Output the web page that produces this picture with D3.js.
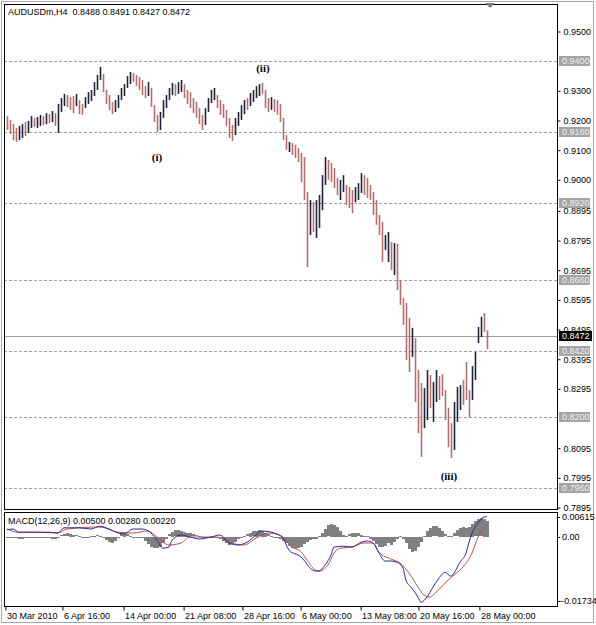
<!DOCTYPE html>
<html>
<head>
<meta charset="utf-8">
<script src="https://cdn.jsdelivr.net/npm/d3@7"></script>
<style>
  body { margin: 0; background: #fff; }
  svg { display: block; font-family: "Liberation Sans", Arial, sans-serif; }
</style>
</head>
<body>
<div id="chart"></div>
<script>
// AUDUSDm H4 bars (one entry per visible bar)
const highs = [
  0.9213,0.9200,0.9186,0.9173,0.9180,0.9186,0.9193,0.9197,0.9213,0.9207,
  0.9210,0.9217,0.9213,0.9223,0.9220,0.9230,0.9223,0.9254,0.9274,0.9288,
  0.9284,0.9277,0.9281,0.9288,0.9267,0.9254,0.9277,0.9294,0.9301,0.9328,
  0.9352,0.9379,0.9355,0.9301,0.9284,0.9261,0.9267,0.9284,0.9308,0.9321,
  0.9348,0.9362,0.9358,0.9352,0.9345,0.9335,0.9314,0.9328,0.9308,0.9250,
  0.9217,0.9227,0.9267,0.9284,0.9308,0.9325,0.9321,0.9328,0.9335,0.9321,
  0.9301,0.9294,0.9274,0.9261,0.9240,0.9217,0.9240,0.9274,0.9301,0.9308,
  0.9284,0.9267,0.9254,0.9234,0.9207,0.9183,0.9207,0.9227,0.9250,0.9267,
  0.9274,0.9291,0.9301,0.9314,0.9321,0.9325,0.9301,0.9274,0.9277,0.9271,
  0.9267,0.9254,0.9207,0.9149,0.9126,0.9122,0.9116,0.9105,0.9089,0.9075,
  0.8957,0.8930,0.8923,0.8930,0.8947,0.9014,0.9075,0.9065,0.9055,0.9038,
  0.9004,0.8998,0.9014,0.8981,0.8974,0.8964,0.8974,0.8987,0.9021,0.9014,
  0.9004,0.8981,0.8957,0.8930,0.8880,0.8856,0.8812,0.8822,0.8789,0.8785,
  0.8782,0.8660,0.8600,0.8583,0.8532,0.8499,0.8465,0.8357,0.8313,0.8296,
  0.8357,0.8340,0.8316,0.8357,0.8337,0.8343,0.8289,0.8229,0.8178,0.8249,
  0.8300,0.8306,0.8323,0.8384,0.8289,0.8370,0.8418,0.8502,0.8536,0.8549,
  0.8491
];
const lows = [
  0.9166,0.9153,0.9132,0.9126,0.9132,0.9139,0.9146,0.9156,0.9173,0.9176,
  0.9173,0.9180,0.9183,0.9186,0.9190,0.9193,0.9180,0.9156,0.9227,0.9247,
  0.9244,0.9234,0.9223,0.9247,0.9220,0.9217,0.9240,0.9254,0.9264,0.9281,
  0.9301,0.9335,0.9294,0.9254,0.9234,0.9220,0.9227,0.9240,0.9267,0.9281,
  0.9308,0.9321,0.9328,0.9314,0.9301,0.9284,0.9274,0.9281,0.9244,0.9193,
  0.9159,0.9166,0.9207,0.9240,0.9267,0.9284,0.9281,0.9288,0.9294,0.9274,
  0.9254,0.9240,0.9223,0.9207,0.9186,0.9166,0.9183,0.9227,0.9257,0.9267,
  0.9240,0.9217,0.9207,0.9180,0.9139,0.9129,0.9149,0.9180,0.9200,0.9220,
  0.9234,0.9247,0.9261,0.9274,0.9281,0.9288,0.9240,0.9227,0.9234,0.9227,
  0.9217,0.9193,0.9132,0.9099,0.9092,0.9082,0.9072,0.9058,0.8991,0.8930,
  0.8704,0.8812,0.8822,0.8802,0.8836,0.8896,0.8981,0.8998,0.8991,0.8971,
  0.8947,0.8930,0.8957,0.8913,0.8903,0.8886,0.8923,0.8930,0.8954,0.8947,
  0.8937,0.8930,0.8880,0.8846,0.8812,0.8721,0.8762,0.8721,0.8694,0.8677,
  0.8627,0.8576,0.8509,0.8391,0.8350,0.8401,0.8249,0.8144,0.8064,0.8161,
  0.8188,0.8229,0.8182,0.8249,0.8256,0.8269,0.8188,0.8097,0.8060,0.8087,
  0.8182,0.8222,0.8239,0.8256,0.8198,0.8256,0.8323,0.8448,0.8468,0.8485,
  0.8427
];
// u = up bar (dark), d = down bar (red) as seen on the picture
const barDirs = (
  "dddduuduud" + "uudududuuu" + "dddudduuuu" + "uudddduuuu" +
  "uudddddudd" + "duuuuuduud" + "dddddduuuu" + "dddddduuuu" +
  "duuuudddud" + "dddduddddd" + "duduuuuddd" + "duuddduuud" +
  "dddddduudu" + "dddddudddu" + "uduudddddu" + "uuddduuuud" + "d"
).split("");

const lastBar = { open: 0.8488, high: 0.8491, low: 0.8427, close: 0.8472 };
const symbolName = "AUDUSDm,H4";

const priceTicks = [0.95, 0.93, 0.92, 0.91, 0.90, 0.8895, 0.8795, 0.8695, 0.8595,
  0.8495, 0.8395, 0.8295, 0.8095, 0.7995, 0.7895];
const levelLines = [0.9400, 0.9160, 0.8920, 0.8660, 0.8420, 0.8200, 0.7960];

const dateTickIdx = [-0.7, 18.3, 38.7, 58.7, 78.3, 97.7, 117.7, 137, 157.3];
const dateLabels = ["30 Mar 2010", "6 Apr 16:00", "14 Apr 00:00", "21 Apr 08:00",
  "28 Apr 16:00", "6 May 00:00", "13 May 08:00", "20 May 16:00", "28 May 00:00"];

const waveLabels = ["(i)", "(ii)", "(iii)"];
const waveIdx = [50, 85.3, 147.3];
const wavePrice = [0.9076, 0.9375, 0.7999];

// MACD(12,26,9) window
const macdRange = [-0.01734, 0.00615];
const macdLegend = [0.00500, 0.00280, 0.00220];
const macdIdx = [0,2,4,9,14,17,19,24,28,31,34,37,39,42,45,48,50,52,54,55,58,61,64,68,71,74,77,80,
  83,85,89,92,94,98,99,101,103,104,106,108,109,112,115,118,120,122,124,126,128,130,132,133,135,
  137,138,140,142,144,146,148,149,151,153,154,155,157,159,160];
const macdMain = [0.0017,0.0019,0.0011,0.0011,0.0011,0.0009,0.0022,0.0022,0.0019,0.0026,0.0019,
  0.0009,0.0007,0.0019,0.0019,0.0009,-0.0009,-0.0029,-0.0026,-0.0009,0.0004,-0.0001,-0.0006,
  -0.0001,0.0004,-0.0016,-0.0021,-0.0014,0.0004,0.0014,0.0009,-0.0004,-0.0034,-0.0051,-0.0059,
  -0.0079,-0.0086,-0.0086,-0.0071,-0.0046,-0.0026,-0.0024,-0.0026,-0.0014,-0.0011,-0.0016,
  -0.0041,-0.0061,-0.0061,-0.0064,-0.0079,-0.0109,-0.0129,-0.0151,-0.0164,-0.0151,-0.0126,
  -0.0104,-0.0089,-0.0099,-0.0091,-0.0064,-0.0041,-0.0014,0.0009,0.0034,0.0049,0.0050];
const signalIdx = [0,4,9,17,20,31,37,42,47,50,54,58,61,65,70,74,79,83,87,91,95,98,100,102,104,
  107,109,111,115,119,122,124,128,131,134,137,139,141,143,147,149,152,155,157,160];
const macdSignal = [0.0019,0.0011,0.0011,0.0009,0.0019,0.0024,0.0011,0.0009,0.0014,-0.0001,
  -0.0021,-0.0016,-0.0001,-0.0001,-0.0001,-0.0014,-0.0021,-0.0004,0.0009,0.0004,-0.0026,
  -0.0038,-0.0059,-0.0079,-0.0086,-0.0071,-0.0041,-0.0029,-0.0026,-0.0016,-0.0016,-0.0039,
  -0.0056,-0.0066,-0.0091,-0.0126,-0.0146,-0.0151,-0.0139,-0.0109,-0.0096,-0.0076,-0.0041,
  -0.0001,0.0028];
const macdHist = [
  -0.0002,-0.0002,-0.0001,-0.0003,-0.0004,-0.0004,-0.0003,-0.0003,-0.0002,-0.0002,
  -0.0003,-0.0003,-0.0002,-0.0002,-0.0003,-0.0004,-0.0004,-0.0002,0.0003,0.0006,
  0.0008,0.0007,0.0005,0.0003,0.0001,-0.0001,-0.0002,-0.0001,0.0001,0.0002,
  0.0003,0.0002,-0.0003,-0.0008,-0.0012,-0.0015,-0.0010,-0.0002,0.0006,0.0009,
  0.0006,0.0002,-0.0001,-0.0002,-0.0001,-0.0003,-0.0010,-0.0018,-0.0024,-0.0028,
  -0.0027,-0.0024,-0.0015,-0.0004,0.0006,0.0012,0.0016,0.0017,0.0015,0.0012,
  0.0010,0.0008,0.0006,0.0003,0.0001,-0.0001,-0.0002,-0.0002,-0.0001,-0.0001,
  -0.0003,-0.0006,-0.0010,-0.0016,-0.0020,-0.0018,-0.0012,-0.0006,-0.0002,0.0002,
  0.0006,0.0010,0.0013,0.0015,0.0016,0.0014,0.0010,0.0006,0.0002,-0.0001,
  -0.0003,-0.0006,-0.0010,-0.0016,-0.0022,-0.0027,-0.0029,-0.0028,-0.0024,-0.0018,
  -0.0012,-0.0008,-0.0006,-0.0004,0.0001,0.0010,0.0020,0.0028,0.0032,0.0030,
  0.0024,0.0014,0.0004,0.0002,0.0006,0.0009,0.0010,0.0008,0.0004,0.0002,
  0.0001,-0.0004,-0.0010,-0.0018,-0.0024,-0.0026,-0.0022,-0.0016,-0.0020,-0.0012,
  -0.0004,0.0002,-0.0006,-0.0016,-0.0030,-0.0038,-0.0034,-0.0024,-0.0012,0.0002,
  0.0014,0.0022,0.0026,0.0026,0.0022,0.0014,0.0006,0.0001,0.0002,0.0008,
  0.0016,0.0022,0.0024,0.0022,0.0024,0.0032,0.0038,0.0043,0.0046,0.0044,
  0.0040
];

const width = 596, height = 625;
const frame = { left: 4, right: 557, top: 4, mainBottom: 509, subTop: 512, subBottom: 606 };

const svg = d3.select("#chart").append("svg")
  .attr("width", width)
  .attr("height", height);

const x = d3.scaleLinear().domain([0, highs.length - 1]).range([7, 487]);
const y = d3.scaleLinear().domain([0.7895, 0.95]).range([507, 31]);
const ym = d3.scaleLinear().domain(macdRange).range([frame.subBottom, frame.subTop]);

// outer window border
svg.append("rect")
  .attr("x", 1.5).attr("y", 1.5)
  .attr("width", 592).attr("height", 621)
  .attr("fill", "none").attr("stroke", "#a8a8a8");

// level lines
svg.append("g")
  .selectAll("line")
  .data(levelLines)
  .join("line")
  .attr("x1", frame.left).attr("x2", frame.right)
  .attr("y1", d => Math.round(y(d)) + 0.5)
  .attr("y2", d => Math.round(y(d)) + 0.5)
  .attr("stroke", "#a0a0a0")
  .attr("stroke-dasharray", "3,2");

// current price line
svg.append("line")
  .attr("x1", frame.left).attr("x2", frame.right)
  .attr("y1", Math.round(y(lastBar.close)) + 0.5)
  .attr("y2", Math.round(y(lastBar.close)) + 0.5)
  .attr("stroke", "#a0a0a0");

// bars
svg.append("g")
  .selectAll("line")
  .data(highs)
  .join("line")
  .attr("x1", (d, i) => Math.round(x(i)) + 0.5)
  .attr("x2", (d, i) => Math.round(x(i)) + 0.5)
  .attr("y1", d => y(d))
  .attr("y2", (d, i) => y(lows[i]))
  .attr("stroke", (d, i) => barDirs[i] === "u" ? "#23233a" : "#b36f6f")
  .attr("stroke-width", 1.6);

// wave labels
svg.append("g")
  .selectAll("text")
  .data(waveLabels)
  .join("text")
  .attr("x", (d, i) => x(waveIdx[i]))
  .attr("y", (d, i) => y(wavePrice[i]))
  .attr("text-anchor", "middle")
  .attr("dominant-baseline", "central")
  .attr("font-family", "'Liberation Serif', 'DejaVu Serif', serif")
  .attr("font-size", "11px")
  .attr("font-weight", "bold")
  .attr("fill", "#000")
  .text(d => d);

// MACD histogram
svg.append("g")
  .attr("shape-rendering", "crispEdges")
  .selectAll("rect")
  .data(macdHist)
  .join("rect")
  .attr("x", (d, i) => Math.round(x(i)) - 1)
  .attr("width", 3)
  .attr("y", d => Math.round(Math.min(ym(d), ym(0))))
  .attr("height", d => Math.max(1, Math.round(Math.abs(ym(d) - ym(0)))))
  .attr("fill", "#808080");

const line = d3.line().curve(d3.curveMonotoneX);
svg.append("path")
  .attr("d", line(macdSignal.map((v, k) => [x(signalIdx[k]), ym(v)])))
  .attr("fill", "none").attr("stroke", "#c0504a").attr("stroke-width", 1);
svg.append("path")
  .attr("d", line(macdMain.map((v, k) => [x(macdIdx[k]), ym(v)])))
  .attr("fill", "none").attr("stroke", "#2a2a9a").attr("stroke-width", 1);

// window frames
svg.append("rect")
  .attr("x", frame.left + 0.5).attr("y", frame.top + 0.5)
  .attr("width", frame.right - frame.left).attr("height", frame.mainBottom - frame.top)
  .attr("fill", "none").attr("stroke", "#000");
svg.append("rect")
  .attr("x", frame.left + 0.5).attr("y", frame.subTop + 0.5)
  .attr("width", frame.right - frame.left).attr("height", frame.subBottom - frame.subTop)
  .attr("fill", "none").attr("stroke", "#000");

// chart shift marker
svg.append("path")
  .attr("d", "M485,3L495,3L490,8Z")
  .attr("fill", "#808080");

// price axis
const priceAxis = svg.append("g")
  .attr("transform", `translate(${frame.right + 0.5},0.5)`)
  .call(d3.axisRight(y).tickValues(priceTicks).tickFormat(d3.format(".4f")).tickSize(3).tickPadding(3));
priceAxis.select(".domain").remove();
priceAxis.selectAll("text").attr("font-size", "9px").attr("font-family", "'Liberation Sans', Arial, sans-serif").attr("fill", "#000");
priceAxis.selectAll("line").attr("stroke", "#000");

// level tags
const tags = svg.append("g")
  .selectAll("g")
  .data(levelLines)
  .join("g")
  .attr("transform", d => `translate(${frame.right + 2},${Math.round(y(d))})`);
tags.append("rect")
  .attr("x", 0).attr("y", -5).attr("width", 31).attr("height", 10)
  .attr("fill", "#a4a4a4");
tags.append("text")
  .attr("x", 3).attr("y", 0)
  .attr("dominant-baseline", "central")
  .attr("font-size", "9px").attr("fill", "#f2f2f2")
  .text(d => d3.format(".4f")(d));

// current price tag
const cur = svg.append("g")
  .attr("transform", `translate(${frame.right + 2},${Math.round(y(lastBar.close))})`);
cur.append("rect")
  .attr("x", 0).attr("y", -5).attr("width", 33).attr("height", 10)
  .attr("fill", "#000");
cur.append("text")
  .attr("x", 3).attr("y", 0)
  .attr("dominant-baseline", "central")
  .attr("font-size", "9px").attr("fill", "#fff")
  .text(d3.format(".4f")(lastBar.close));

// MACD axis labels
const macdTicks = [macdRange[1], 0, macdRange[0]];
const macdTickY = [ym(macdRange[1]) + 5, ym(0), ym(macdRange[0]) - 5];
const macdFmt = d => d === 0 ? "0.00" : d3.format(".5f")(d);
svg.append("g")
  .selectAll("text")
  .data(macdTicks)
  .join("text")
  .attr("x", (d, i) => d < 0 ? frame.right + 2 : frame.right + 5)
  .attr("y", (d, i) => macdTickY[i])
  .attr("dominant-baseline", "central")
  .attr("font-size", "9px").attr("fill", "#000")
  .text(macdFmt);
svg.append("g")
  .selectAll("line")
  .data(macdTickY)
  .join("line")
  .attr("x1", frame.right).attr("x2", frame.right + 3)
  .attr("y1", d => Math.round(d) + 0.5).attr("y2", d => Math.round(d) + 0.5)
  .attr("stroke", "#000");

// date axis
const dateAxis = svg.append("g")
  .attr("transform", `translate(0.5,${frame.subBottom + 0.5})`)
  .call(d3.axisBottom(x).tickValues(dateTickIdx).tickFormat((d, i) => dateLabels[i]).tickSize(4).tickPadding(2));
dateAxis.select(".domain").remove();
dateAxis.selectAll("line").attr("stroke", "#000");
dateAxis.selectAll("text")
  .attr("text-anchor", "start").attr("dx", "1")
  .attr("font-size", "9px").attr("font-family", "'Liberation Sans', Arial, sans-serif").attr("fill", "#000");

// titles
const f4 = d3.format(".4f");
svg.append("text")
  .attr("x", 8).attr("y", 12)
  .attr("dominant-baseline", "central")
  .attr("font-size", "9px").attr("fill", "#000")
  .attr("xml:space", "preserve")
  .text(`${symbolName}  ${f4(lastBar.open)} ${f4(lastBar.high)} ${f4(lastBar.low)} ${f4(lastBar.close)}`);
svg.append("text")
  .attr("x", 8).attr("y", 521)
  .attr("dominant-baseline", "central")
  .attr("font-size", "9px").attr("fill", "#000")
  .text(`MACD(12,26,9) ${macdLegend.map(d3.format(".5f")).join(" ")}`);
</script>
</body>
</html>
